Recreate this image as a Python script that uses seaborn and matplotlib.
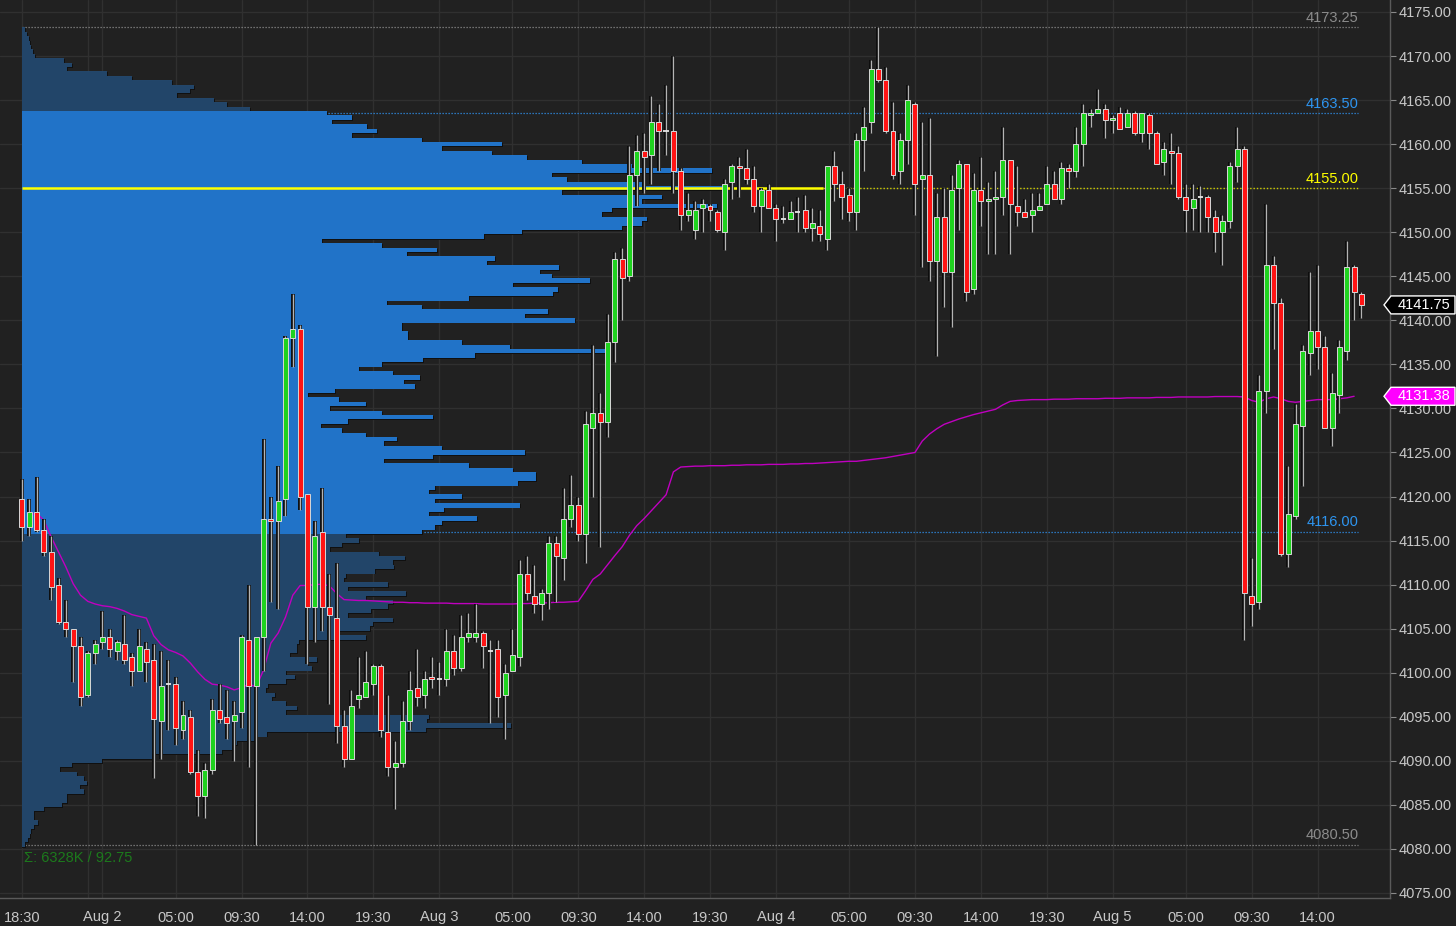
import numpy as np
import seaborn as sns
import matplotlib.pyplot as plt
from matplotlib.patches import Polygon
from matplotlib.transforms import blended_transform_factory

# 30 minute bars, Aug 1 18:30 -> Aug 5 afternoon (bar index on the x axis)
opens = [
    4119.75, 4116.5, 4118.25, 4116.25, 4113.75, 4110.0, 4105.75, 4105.0, 4103.0, 4097.5,
    4102.25, 4103.5, 4104.0, 4102.5, 4103.25, 4101.75, 4100.25, 4102.75, 4101.5, 4094.5,
    4098.75, 4098.75, 4093.5, 4095.0, 4088.75, 4086.0, 4089.0, 4095.75, 4095.0, 4094.5,
    4095.5, 4103.75, 4098.5, 4104.0, 4117.5, 4117.25, 4119.75, 4138.0, 4139.0, 4120.25,
    4107.5, 4116.0, 4107.5, 4106.25, 4094.0, 4090.25, 4097.0, 4097.25, 4098.75, 4100.75,
    4093.25, 4089.25, 4089.75, 4094.5, 4098.25, 4097.5, 4099.5, 4099.25, 4099.25, 4102.5,
    4100.5, 4104.0, 4104.0, 4104.5, 4102.5, 4102.75, 4097.5, 4100.25, 4101.75, 4111.25,
    4108.75, 4107.75, 4109.0, 4114.75, 4113.0, 4117.5, 4119.0, 4115.75, 4127.75, 4129.5,
    4128.5, 4137.5, 4147.0, 4145.0, 4156.5, 4159.25, 4158.75, 4162.5, 4161.5, 4161.5,
    4157.0, 4152.0, 4150.25, 4152.75, 4153.0, 4152.25, 4150.0, 4155.75, 4157.5, 4157.25,
    4156.0, 4153.0, 4154.75, 4152.75, 4151.5, 4151.5, 4152.25, 4152.5, 4150.5, 4150.75,
    4149.25, 4157.5, 4155.5, 4154.25, 4152.25, 4160.5, 4162.5, 4168.5, 4167.25, 4161.5,
    4157.0, 4160.5, 4164.5, 4156.0, 4156.5, 4146.75, 4151.75, 4145.5, 4155.0, 4157.75,
    4143.5, 4154.75, 4153.5, 4153.75, 4154.0, 4158.25, 4153.0, 4152.25, 4152.0, 4152.5,
    4153.25, 4155.5, 4153.75, 4157.25, 4157.0, 4160.0, 4163.25, 4163.5, 4164.0, 4162.75,
    4163.5, 4162.0, 4163.5, 4161.25, 4163.25, 4161.25, 4158.0, 4159.25, 4159.0, 4154.0,
    4152.75, 4154.0, 4154.0, 4151.75, 4150.0, 4151.25, 4157.5, 4159.5, 4108.75, 4108.0,
    4132.0, 4146.25, 4142.0, 4113.5, 4117.75, 4128.0, 4136.25, 4138.75, 4137.0, 4127.75,
    4131.5, 4136.5, 4146.0, 4143.0,
]
highs = [
    4122.0, 4119.75, 4122.25, 4117.5, 4115.5, 4110.75, 4108.25, 4105.0, 4104.0, 4102.5,
    4103.75, 4107.0, 4105.0, 4103.75, 4106.5, 4102.25, 4105.0, 4103.5, 4103.25, 4102.5,
    4101.5, 4099.5, 4096.75, 4095.75, 4091.25, 4089.75, 4097.0, 4098.75, 4098.0, 4096.75,
    4104.25, 4110.0, 4104.0, 4126.5, 4120.0, 4123.5, 4138.25, 4143.0, 4139.5, 4120.25,
    4117.25, 4121.0, 4111.25, 4112.5, 4095.75, 4098.0, 4101.75, 4102.5, 4101.0, 4101.0,
    4097.5, 4092.25, 4096.75, 4100.25, 4102.75, 4100.25, 4101.75, 4101.25, 4105.0, 4104.25,
    4106.5, 4106.75, 4107.75, 4104.75, 4103.75, 4103.75, 4101.0, 4105.0, 4112.75, 4113.25,
    4112.25, 4109.5, 4115.5, 4115.5, 4121.0, 4122.5, 4120.0, 4129.75, 4137.25, 4131.75,
    4140.75, 4147.75, 4148.25, 4159.75, 4161.0, 4161.25, 4165.5, 4164.5, 4166.75, 4170.0,
    4157.25, 4154.5, 4153.5, 4153.75, 4153.25, 4152.5, 4156.0, 4157.75, 4158.5, 4159.5,
    4157.5, 4155.0, 4155.5, 4153.25, 4153.0, 4153.5, 4154.0, 4154.25, 4152.75, 4152.5,
    4157.5, 4159.25, 4157.0, 4155.0, 4161.25, 4164.25, 4169.5, 4173.25, 4168.75, 4164.75,
    4161.25, 4166.75, 4164.75, 4162.5, 4163.0, 4154.5, 4155.0, 4156.5, 4158.25, 4157.75,
    4156.75, 4158.5, 4155.75, 4157.0, 4162.0, 4158.25, 4157.5, 4153.75, 4154.5, 4154.5,
    4157.5, 4157.0, 4158.0, 4157.75, 4162.0, 4164.5, 4164.0, 4166.25, 4164.5, 4163.25,
    4164.25, 4164.0, 4163.75, 4163.5, 4163.5, 4161.5, 4160.25, 4161.25, 4159.75, 4155.5,
    4155.5, 4155.25, 4154.25, 4152.5, 4152.0, 4158.0, 4162.0, 4159.75, 4113.0, 4133.75,
    4153.25, 4147.25, 4142.5, 4123.5, 4130.5, 4137.25, 4145.5, 4146.25, 4138.25, 4134.0,
    4137.75, 4149.0, 4146.25, 4143.25,
]
lows = [
    4115.0, 4115.5, 4116.0, 4113.25, 4108.25, 4105.5, 4104.0, 4099.0, 4096.25, 4097.25,
    4101.0, 4102.75, 4101.75, 4101.5, 4101.0, 4098.5, 4100.25, 4099.0, 4088.0, 4090.25,
    4093.5, 4091.75, 4092.5, 4088.5, 4083.75, 4083.5, 4088.5, 4094.25, 4092.5, 4090.0,
    4093.75, 4089.25, 4080.5, 4100.25, 4108.0, 4107.25, 4117.75, 4134.75, 4118.5, 4101.0,
    4103.5, 4104.75, 4096.5, 4092.0, 4089.25, 4090.25, 4096.0, 4097.25, 4097.5, 4092.75,
    4088.25, 4084.5, 4089.25, 4093.5, 4096.25, 4096.0, 4098.25, 4097.5, 4098.5, 4099.75,
    4100.25, 4103.5, 4103.5, 4100.5, 4094.25, 4095.0, 4092.5, 4100.25, 4100.75, 4108.25,
    4106.75, 4106.0, 4107.25, 4108.0, 4110.5, 4116.5, 4115.0, 4112.5, 4120.0, 4114.25,
    4126.75, 4135.25, 4140.0, 4144.5, 4153.0, 4154.5, 4155.5, 4157.0, 4158.75, 4154.5,
    4150.25, 4151.25, 4149.25, 4150.0, 4151.25, 4150.0, 4148.0, 4153.75, 4154.0, 4155.5,
    4152.25, 4150.0, 4152.75, 4149.0, 4151.0, 4151.5, 4150.0, 4150.0, 4149.0, 4149.0,
    4148.0, 4153.5, 4151.5, 4151.25, 4150.25, 4157.0, 4161.25, 4167.0, 4161.25, 4156.0,
    4155.5, 4157.75, 4152.0, 4146.0, 4144.5, 4136.0, 4141.5, 4139.25, 4150.25, 4142.25,
    4143.0, 4150.75, 4147.5, 4147.5, 4152.0, 4147.5, 4150.75, 4151.75, 4150.0, 4152.5,
    4153.25, 4153.75, 4153.25, 4155.0, 4156.25, 4157.5, 4162.0, 4163.5, 4160.75, 4161.25,
    4161.75, 4162.0, 4161.0, 4160.25, 4159.5, 4157.75, 4156.5, 4155.5, 4153.75, 4150.0,
    4150.25, 4150.0, 4150.0, 4147.75, 4146.25, 4150.5, 4155.75, 4103.75, 4105.25, 4107.25,
    4129.5, 4136.75, 4113.25, 4112.0, 4117.5, 4121.25, 4133.75, 4134.5, 4127.75, 4125.75,
    4129.5, 4135.5, 4140.0, 4140.25,
]
closes = [
    4116.5, 4118.25, 4116.25, 4113.75, 4109.75, 4105.75, 4105.0, 4103.0, 4097.25, 4102.25,
    4103.25, 4104.0, 4102.75, 4103.5, 4101.5, 4100.25, 4103.0, 4101.25, 4094.75, 4098.5,
    4098.75, 4093.75, 4095.25, 4088.75, 4086.0, 4089.0, 4095.75, 4094.75, 4094.25, 4095.25,
    4104.0, 4098.5, 4104.0, 4117.5, 4117.25, 4119.5, 4138.0, 4139.0, 4120.0, 4107.5,
    4115.5, 4107.5, 4106.5, 4094.0, 4090.25, 4096.25, 4097.5, 4099.0, 4100.75, 4093.5,
    4089.25, 4089.75, 4094.5, 4098.0, 4097.25, 4099.25, 4099.25, 4099.25, 4102.5, 4100.5,
    4104.0, 4104.5, 4104.5, 4103.0, 4102.5, 4097.25, 4100.0, 4102.0, 4111.25, 4109.0,
    4107.75, 4109.0, 4114.75, 4113.25, 4117.5, 4119.0, 4115.75, 4128.25, 4129.5, 4128.5,
    4137.5, 4147.0, 4144.75, 4156.5, 4159.25, 4158.5, 4162.5, 4161.5, 4161.5, 4157.0,
    4152.0, 4152.5, 4152.5, 4153.25, 4152.5, 4150.25, 4155.5, 4157.5, 4157.25, 4156.0,
    4153.0, 4154.75, 4152.75, 4151.5, 4151.5, 4152.25, 4152.25, 4150.5, 4151.0, 4149.75,
    4157.5, 4155.5, 4154.0, 4152.25, 4160.5, 4162.0, 4168.5, 4167.25, 4161.5, 4156.5,
    4160.5, 4165.0, 4155.5, 4156.5, 4146.75, 4151.75, 4145.5, 4154.75, 4157.75, 4143.25,
    4154.75, 4153.5, 4153.75, 4154.0, 4158.25, 4153.25, 4152.25, 4151.75, 4152.5, 4153.0,
    4155.5, 4153.75, 4157.25, 4157.0, 4160.0, 4163.5, 4163.5, 4164.0, 4162.75, 4163.0,
    4161.75, 4163.5, 4161.25, 4163.5, 4161.25, 4157.75, 4159.5, 4159.0, 4154.0, 4152.5,
    4153.75, 4154.0, 4151.75, 4150.0, 4151.25, 4157.5, 4159.5, 4109.0, 4107.75, 4132.0,
    4146.25, 4142.0, 4113.5, 4118.0, 4128.25, 4136.5, 4138.75, 4137.0, 4127.75, 4131.75,
    4137.0, 4146.0, 4143.25, 4141.75,
]

# session VWAP, bars 1..182
vwap = [
    4117.9, 4118.1, 4117.3, 4115.4, 4113.7, 4112.0, 4110.1, 4108.8, 4108.1, 4107.8,
    4107.6, 4107.5, 4107.3, 4107.0, 4106.6, 4106.4, 4106.2, 4104.2, 4103.2, 4102.6,
    4102.3, 4101.9, 4101.1, 4100.1, 4099.25, 4098.7, 4098.6, 4098.4, 4098.05, 4098.3,
    4098.7, 4098.4, 4100.3, 4103.35, 4104.5, 4106.3, 4108.8, 4109.9, 4109.9, 4110.0,
    4110.05, 4109.85, 4109.0, 4108.3, 4108.25, 4108.2, 4108.2, 4108.15, 4108.1, 4108.05,
    4108.0, 4108.0, 4107.95, 4107.95, 4107.9, 4107.9, 4107.9, 4107.9, 4107.85, 4107.85,
    4107.85, 4107.85, 4107.8, 4107.8, 4107.8, 4107.8, 4107.8, 4107.85, 4107.85, 4107.9,
    4107.9, 4107.95, 4108.0, 4108.0, 4108.05, 4108.1, 4109.3, 4110.6, 4111.2, 4112.25,
    4113.3, 4114.3, 4115.6, 4116.7, 4117.5, 4118.4, 4119.3, 4120.2, 4122.8, 4123.35,
    4123.4, 4123.45, 4123.45, 4123.5, 4123.5, 4123.5, 4123.55, 4123.55, 4123.6, 4123.6,
    4123.6, 4123.65, 4123.65, 4123.65, 4123.7, 4123.7, 4123.75, 4123.75, 4123.8, 4123.85,
    4123.9, 4123.95, 4124.0, 4124.0, 4124.1, 4124.2, 4124.3, 4124.4, 4124.55, 4124.7,
    4124.85, 4125.0, 4126.3, 4127.1, 4127.7, 4128.2, 4128.5, 4128.8, 4129.05, 4129.3,
    4129.5, 4129.7, 4129.9, 4130.4, 4130.8, 4130.9, 4130.95, 4131.0, 4131.0, 4131.0,
    4131.05, 4131.05, 4131.05, 4131.1, 4131.1, 4131.1, 4131.1, 4131.15, 4131.15, 4131.15,
    4131.2, 4131.2, 4131.2, 4131.2, 4131.25, 4131.25, 4131.25, 4131.3, 4131.3, 4131.3,
    4131.3, 4131.3, 4131.35, 4131.35, 4131.35, 4131.35, 4131.3, 4130.9, 4130.7, 4131.1,
    4131.3, 4131.1, 4130.8, 4130.7, 4130.8, 4130.9, 4131.0, 4131.0, 4131.0, 4131.1,
    4131.2, 4131.38,
]

# volume profile, 0.5 pt rows from 4173.00 down to 4080.50 (relative volume)
profile_vol = [
    3, 5, 7, 8, 9, 11, 13, 42, 50, 45,
    85, 110, 150, 172, 168, 155, 192, 205, 228,
    305, 330, 310, 345, 355, 330, 400, 480, 420, 470,
    505, 560, 610, 690, 530, 545, 620, 700, 540, 640,
    620, 695, 590, 580, 625, 620, 600, 500, 462, 300,
    360, 415, 385, 473, 465, 537, 518, 530, 568, 491,
    536, 531, 447, 365, 400, 526, 503, 553, 380, 380,
    386, 386, 440, 488, 583, 453, 401, 360, 337, 371,
    398, 382, 393, 313, 286, 317, 344, 308, 360, 411,
    326, 299, 320, 344, 375, 362, 420, 503, 411, 362,
    447, 491, 514, 514, 496, 413, 407, 440, 413, 498,
    422, 407, 455, 420, 413, 400,
    324, 337, 320, 308, 357, 383, 371, 372, 353, 324,
    322, 366, 326, 384, 344, 371, 366, 349, 326, 371,
    351, 348, 317, 344, 277, 275, 275, 268, 295, 286,
    290, 264, 273, 264, 246, 244, 253, 250, 264, 275,
    264, 407, 405, 489, 404, 245, 235, 215, 210, 200,
    130, 80, 50, 38, 55, 62, 65, 58, 62, 45,
    45, 40, 22, 12, 12, 16, 12, 9, 8, 6, 3,
]
profile_top = 4173.0
profile_step = 0.5
va_high, va_low, poc = 4163.50, 4116.00, 4155.00
total_volume_k = 6328

tick_pos = [0, 11, 21, 30, 39, 48, 57, 67, 76, 85, 94, 103, 113, 122, 131, 140, 149, 159, 168, 177]
tick_lab = ['18:30', 'Aug 2', '05:00', '09:30', '14:00', '19:30', 'Aug 3', '05:00', '09:30', '14:00',
            '19:30', 'Aug 4', '05:00', '09:30', '14:00', '19:30', 'Aug 5', '05:00', '09:30', '14:00']

BG = '#212121'
GRID = '#303030'
TXT = '#c8c8c8'

sns.set_theme(style='dark', rc={
    'axes.facecolor': BG, 'figure.facecolor': BG, 'axes.edgecolor': '#5a5a5a',
    'grid.color': GRID, 'text.color': TXT, 'xtick.color': TXT, 'ytick.color': TXT,
})
plt.rcParams['font.family'] = ['Liberation Sans', 'DejaVu Sans']

W, H = 1456, 926
fig = plt.figure(figsize=(W / 100, H / 100), dpi=100, facecolor=BG)
ax = fig.add_axes([0, 28 / H, 1390 / W, 898 / H])
x_lo, x_hi = -3.0, 186.9
px_per_bar = 1390 / (x_hi - x_lo)

o, h, l, c = (np.array(a, dtype=float) for a in (opens, highs, lows, closes))
assert len(o) == len(h) == len(l) == len(c)
idx = np.arange(len(o))
last_x = idx[-1] - 0.5

# grid
ax.set_xticks(tick_pos)
ax.set_xticklabels(tick_lab)
ax.set_xticks([9], minor=True)
ax.grid(True, which='both', axis='x', color=GRID, lw=1.0, zorder=0)
ax.grid(True, which='major', axis='y', color=GRID, lw=1.0, zorder=0)
ax.set_axisbelow(True)

# level lines (dotted)
dot = (0, (1, 1.4))
ax.hlines([h.max(), l.min()], 0, last_x, colors='#8a8a8a', linestyles=[dot], lw=0.9, zorder=1)
ax.hlines([va_high, va_low], 0, last_x, colors='#2f8ee8', linestyles=[dot], lw=0.9, zorder=1)
ax.hlines(poc, 109.5, last_x, colors='#d0d000', linestyles=[dot], lw=1.0, zorder=1)

# volume profile
pv = np.array(profile_vol, dtype=float)
centers = profile_top - profile_step * np.arange(len(pv))
widths = pv / pv.max() * (700 / px_per_bar)
in_va = (centers <= va_high) & (centers >= va_low)
cols = np.where(in_va, '#2279d3', '#24496f')
ax.barh(centers - 0.1, widths + 0.15, left=0, height=profile_step, color='#101010',
        linewidth=0, zorder=1.5)
ax.barh(centers, widths, left=0, height=profile_step, color=cols, linewidth=0,
        alpha=0.95, zorder=2)

# POC solid part
ax.hlines(poc, 0, 109.5, colors='#ffff00', lw=1.8, zorder=2.6)

# VWAP
sns.lineplot(x=np.arange(1, len(vwap) + 1), y=vwap, ax=ax, color='#c000c0', lw=1.0,
             zorder=3.5)

# candles
ax.vlines(idx, l, h, color='#0c0c0c', lw=2.8, zorder=4)
ax.vlines(idx, l, h, color='#b4b4b4', lw=1.0, zorder=4.1)
up = c > o
dn = c < o
flat = c == o
ax.bar(idx[up], (c - o)[up], bottom=o[up], width=0.68, color='#1fd21f',
       edgecolor='#d8d8d8', linewidth=0.7, zorder=5)
ax.bar(idx[dn], (o - c)[dn], bottom=c[dn], width=0.68, color='#ff1414',
       edgecolor='#d8d8d8', linewidth=0.7, zorder=5)
ax.hlines(o[flat], idx[flat] - 0.36, idx[flat] + 0.36, colors='#e6e6e6', lw=1.3, zorder=5)

# level labels
fs = 10.5
for lvl, col in [(h.max(), '#8c8c8c'), (va_high, '#2e95f0'), (poc, '#ffff00'),
                 (va_low, '#2e95f0'), (l.min(), '#8c8c8c')]:
    ax.text(idx[-1] - 0.4, lvl + 0.3, f'{lvl:.2f}', ha='right', va='bottom', color=col,
            fontsize=fs, zorder=6)

ax.text(0.3, 4079.0, f'\u03a3: {total_volume_k}K / {h.max() - l.min():.2f}', ha='left',
        va='center', color='#1c7a1c', fontsize=fs, zorder=6)

# axes styling
ax.yaxis.tick_right()
ax.set_yticks(np.arange(4075, 4176, 5))
ax.set_yticklabels([f'{v:.2f}' for v in np.arange(4075, 4176, 5)])
ax.tick_params(axis='y', colors=TXT, labelsize=fs, length=4, width=0.8, pad=2, color='#8a8a8a')
ax.tick_params(axis='x', which='both', colors=TXT, labelsize=fs, length=4, width=0.8, pad=5,
               color='#8a8a8a')
for side in ['left', 'top']:
    ax.spines[side].set_visible(False)
for side in ['right', 'bottom']:
    ax.spines[side].set_color('#5a5a5a')
    ax.spines[side].set_linewidth(1.0)
ax.set_xlabel('')
ax.set_ylabel('')

# price tags on the right axis
tr = blended_transform_factory(ax.transAxes, ax.transData)


def price_tag(y, face, txt):
    x0, x1, x2 = 1384 / 1390, 1391 / 1390, 1455 / 1390
    hh = 1.02
    ax.add_patch(Polygon([(x0, y), (x1, y + hh), (x2, y + hh), (x2, y - hh), (x1, y - hh)],
                         closed=True, transform=tr, facecolor=face, edgecolor='#ffffff',
                         lw=1.0, clip_on=False, zorder=20))
    ax.text((x1 + x2) / 2 + 0.001, y, f'{y:.2f}', transform=tr, ha='center', va='center',
            color=txt, fontsize=fs, zorder=21, clip_on=False)


price_tag(c[-1], '#000000', '#ffffff')
price_tag(vwap[-1], '#ff00ff', '#ffffff')

ax.set_xlim(x_lo, x_hi)
ax.set_ylim(4074.43, 4176.36)

fig.savefig('out.png', dpi=100, facecolor=BG)
